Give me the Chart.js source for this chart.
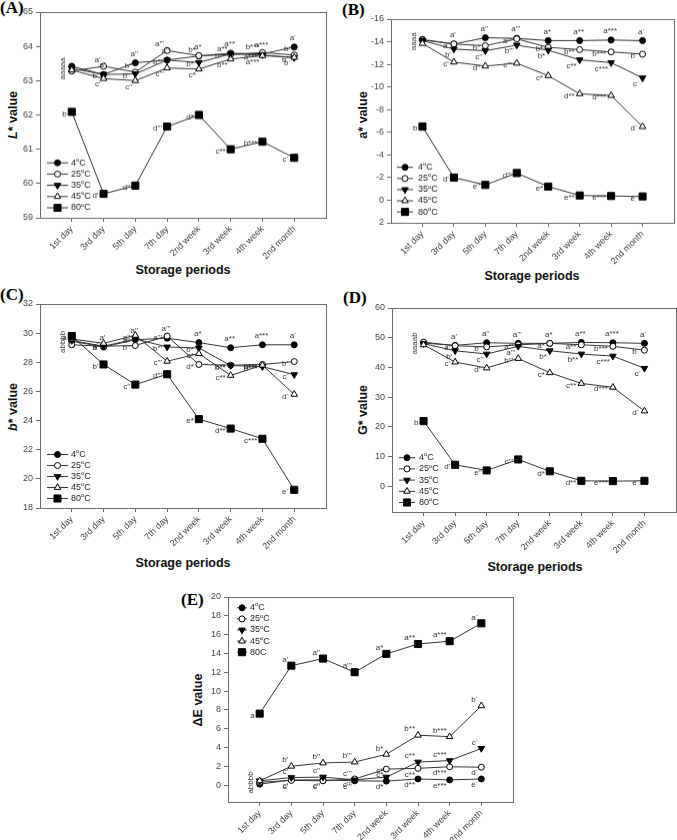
<!DOCTYPE html>
<html><head><meta charset="utf-8">
<script src="https://cdn.jsdelivr.net/npm/chart.js@4"></script>
<style>
body{margin:0;width:677px;height:840px;background:#fff;position:relative;overflow:hidden;font-family:"Liberation Sans",Arial,sans-serif}
.box{position:absolute}
.t{position:absolute;font-weight:bold;font-size:12.5px;white-space:nowrap;color:#111;font-family:"Liberation Sans",Arial,sans-serif}
.yt{transform:translate(-50%,-50%) rotate(-90deg)}
.xt{transform:translate(-50%,-50%)}
.pl{position:absolute;font-family:"Liberation Serif","Times New Roman",serif;font-weight:bold;font-size:17px;line-height:17px;color:#000}
</style></head><body>

<div class="pl" style="left:0px;top:-1px">(A)</div>
<div class="pl" style="left:342px;top:1px">(B)</div>
<div class="pl" style="left:0px;top:286px">(C)</div>
<div class="pl" style="left:343px;top:289px">(D)</div>
<div class="pl" style="left:181px;top:591px">(E)</div>

<div class="t yt" style="left:13px;top:115px"><i>L</i>* value</div>
<div class="t yt" style="left:363px;top:115px">a* value</div>
<div class="t yt" style="left:13px;top:407px"><i>b</i>* value</div>
<div class="t yt" style="left:363px;top:410px">G* value</div>
<div class="t yt" style="left:198px;top:700px">ΔE value</div>

<div class="t xt" style="left:183px;top:270px">Storage periods</div>
<div class="t xt" style="left:532px;top:276px">Storage periods</div>
<div class="t xt" style="left:183px;top:563px">Storage periods</div>
<div class="t xt" style="left:535px;top:567px">Storage periods</div>

<script>
// ---------- data ----------
const categories = ['1st day','3rd day','5th day','7th day','2nd week','3rd week','4th week','2nd month'];
const sigSuffix = ['', "'", "''", "'''", '*', '**', '***', '\u00B4'];
const seriesNames = ['4°C','25°C','35°C','45°C','80°C'];
const seriesNamesE = ['4°C','25°C','35°C','45°C','80C'];

// (A) L*
const A_4C  = [63.42, 63.18, 63.52, 63.60, 63.72, 63.80, 63.78, 63.98];
const A_25C = [63.28, 63.42, 63.25, 63.88, 63.73, 63.76, 63.82, 63.75];
const A_35C = [63.36, 63.18, 63.20, 63.60, 63.53, 63.78, 63.75, 63.67];
const A_45C = [63.31, 63.06, 63.00, 63.37, 63.34, 63.63, 63.73, 63.68];
const A_80C = [62.09, 59.70, 59.94, 61.66, 62.00, 61.00, 61.22, 60.75];
const A_sig = ['aaaaaaaa','aabababb','abbbbbab','accccbab','bddddcbc'];
const A_first = 'aaaaa';
const A_yticks = [59,60,61,62,63,64,65];

// (B) a*
const B_4C  = [-14.2, -13.8, -14.35, -14.3, -14.1, -14.1, -14.15, -14.1];
const B_25C = [-14.15, -13.8, -13.65, -14.25, -13.5, -13.3, -13.1, -12.9];
const B_35C = [-14.1, -13.35, -13.2, -13.7, -13.25, -12.4, -12.15, -10.8];
const B_45C = [-13.85, -12.2, -11.85, -12.1, -11.0, -9.4, -9.25, -6.5];
const B_80C = [-6.5, -2.0, -1.35, -2.4, -1.2, -0.42, -0.37, -0.33];
const B_sig = ['aaaaaaaa','aababbbb','abcbbccc','acdccddd','bdedeeee'];
const B_first = 'aaaa';
const B_yticks = [-16,-14,-12,-10,-8,-6,-4,-2,0,2];

// (C) b*
const C_4C  = [29.45, 29.05, 29.55, 29.65, 29.35, 29.0, 29.2, 29.2];
const C_25C = [29.2, 29.1, 29.15, 29.8, 27.85, 27.8, 27.85, 28.05];
const C_35C = [29.5, 29.1, 29.6, 29.05, 28.98, 27.78, 27.7, 27.15];
const C_45C = [29.6, 29.3, 29.85, 28.07, 28.6, 27.1, 27.8, 25.8];
const C_80C = [29.8, 27.85, 26.47, 27.18, 24.1, 23.45, 22.75, 19.25];
const C_sig = ['aaaaaaaa','babadbbb','bbabbbbc','baacccbd','abcdedce'];
const C_first = 'abbbb';
const C_yticks = [18,20,22,24,26,28,30,32];

// (D) G*
const D_4C  = [48.2, 47.4, 48.3, 48.1, 48.1, 48.4, 48.3, 48.1];
const D_25C = [48.5, 47.3, 46.9, 47.6, 48.1, 47.6, 47.1, 45.8];
const D_35C = [48.0, 45.6, 44.5, 47.1, 45.6, 44.5, 43.8, 39.7];
const D_45C = [47.6, 41.8, 39.8, 43.0, 38.2, 34.6, 33.3, 25.3];
const D_80C = [21.9, 7.2, 5.3, 9.0, 5.0, 1.8, 1.7, 1.8];
const D_sig = ['aaaaaaaa','aabaaabb','bbcabbcc','ccdbccdd','bdecddee'];
const D_first = 'aaaab';
const D_yticks = [0,10,20,30,40,50,60];

// (E) ΔE
const E_4C  = [0.1, 0.55, 0.55, 0.45, 0.42, 0.65, 0.55, 0.65];
const E_25C = [0.3, 0.5, 0.45, 0.65, 1.7, 1.78, 1.95, 1.9];
const E_35C = [0.45, 0.8, 0.85, 0.55, 0.85, 2.45, 2.6, 3.9];
const E_45C = [0.45, 2.0, 2.35, 2.45, 3.27, 5.3, 5.15, 8.43];
const E_80C = [7.6, 12.7, 13.45, 12.0, 13.95, 15.0, 15.3, 17.2];
const E_sig = ['ccccddee','ccccccdd','cccccccc','bbbbbbbb','aaaaaaaa'];
const E_first = 'abbbb';
const E_yticks = [0,2,4,6,8,10,12,14,16,18,20];

// ---------- styling ----------
const FONT = '"Liberation Sans", Arial, sans-serif';
const markers = [
  {style:'circle',   fill:'#000', r:3.0, rot:0},
  {style:'circle',   fill:'#fff', r:3.0, rot:0},
  {style:'triangle', fill:'#000', r:3.8, rot:180},
  {style:'triangle', fill:'#fff', r:3.8, rot:0},
  {style:'rect',     fill:'#000', r:5.0, rot:0}
];
const YW = 30, PL = 4, PT = 14, PR = 6, XH = 48, PB = 4;

function drawMarker(ctx, m, x, y){
  ctx.save();
  ctx.fillStyle = m.fill; ctx.strokeStyle = '#000'; ctx.lineWidth = 1;
  ctx.beginPath();
  if (m.style === 'circle') { ctx.arc(x, y, m.r, 0, Math.PI*2); }
  else if (m.style === 'rect') { const s = m.r*Math.SQRT1_2; ctx.rect(x-s, y-s, 2*s, 2*s); }
  else {
    const r = m.r, sgn = m.rot ? -1 : 1;
    ctx.moveTo(x, y - sgn*r);
    ctx.lineTo(x + r*0.866, y + sgn*r*0.5);
    ctx.lineTo(x - r*0.866, y + sgn*r*0.5);
    ctx.closePath();
  }
  ctx.fill(); ctx.stroke();
  ctx.restore();
}

function drawName(ctx, name, x, y){
  const parts = name.split('°');
  ctx.textAlign = 'left'; ctx.textBaseline = 'middle';
  ctx.font = '9px ' + FONT;
  ctx.fillText(parts[0], x, y);
  let w = ctx.measureText(parts[0]).width;
  if (parts.length > 1) {
    ctx.font = '6px ' + FONT;
    ctx.fillText('o', x + w, y - 3);
    w += ctx.measureText('o').width;
    ctx.font = '9px ' + FONT;
    ctx.fillText(parts[1], x + w, y);
  }
}

function makePanel(cfg){
  const a = cfg.area;
  const div = document.createElement('div');
  div.className = 'box';
  const left = a.L - YW - PL, top = a.T - PT;
  const w = (a.R - a.L) + YW + PL + PR, h = (a.B - a.T) + PT + XH + PB;
  div.style.left = left + 'px'; div.style.top = top + 'px';
  div.style.width = w + 'px'; div.style.height = h + 'px';
  const cv = document.createElement('canvas');
  cv.width = w; cv.height = h; cv.style.width = w + 'px'; cv.style.height = h + 'px';
  div.appendChild(cv); document.body.appendChild(div);

  const datasets = cfg.data.map((arr, i) => ({
    label: cfg.names[i],
    data: arr.map((v, j) => ({x: j, y: v})),
    borderColor: '#333', borderWidth: 1,
    pointStyle: markers[i].style, pointRotation: markers[i].rot,
    pointRadius: markers[i].r, pointBackgroundColor: markers[i].fill,
    pointBorderColor: '#000', pointBorderWidth: 1,
    showLine: true, tension: 0, order: 5 - i
  }));

  const deco = {
    id: 'deco_' + cfg.id,
    beforeDatasetsDraw(chart){
      const c = chart.ctx, ca = chart.chartArea;
      c.save(); c.strokeStyle = '#6a6a6a'; c.lineWidth = 1;
      c.strokeRect(Math.round(ca.left)+0.5, Math.round(ca.top)+0.5, Math.round(ca.right-ca.left), Math.round(ca.bottom-ca.top));
      c.restore();
    },
    afterDatasetsDraw(chart){
      const c = chart.ctx, ca = chart.chartArea;
      // significance letters
      c.save();
      c.font = '8px ' + FONT; c.fillStyle = '#333';
      cfg.data.forEach((arr, i) => {
        const meta = chart.getDatasetMeta(i);
        meta.data.forEach((pt, j) => {
          if (j === 0 && i < 4) return;
          const txt = cfg.sig[i][j] + sigSuffix[j];
          const p = (j === 0) ? 'left' : cfg.place[i];
          let x = pt.x, y = pt.y;
          if (p === 'above') { c.textAlign='center'; c.textBaseline='bottom'; x -= 1; y -= 5; }
          else if (p === 'left') { c.textAlign='right'; c.textBaseline='middle'; x -= 5; y += 2; }
          else if (p === 'aboveleft') { c.textAlign='right'; c.textBaseline='bottom'; x -= 3; y -= 2; }
          else if (p === 'belowleft') { c.textAlign='right'; c.textBaseline='top'; x -= 3; y += 2; }
          else { c.textAlign='center'; c.textBaseline='top'; y += 5; }
          c.fillText(txt, x, y);
        });
      });
      const ys = [0,1,2,3].map(i => chart.getDatasetMeta(i).data[0].y);
      const x0 = chart.getDatasetMeta(0).data[0].x - 9;
      const ym = (Math.min(...ys) + Math.max(...ys)) / 2;
      c.translate(x0, ym); c.rotate(-Math.PI/2);
      c.textAlign = 'center'; c.textBaseline = 'middle';
      c.fillText(cfg.first, 0, 0);
      c.restore();
      // legend
      const lg = cfg.legend;
      c.save(); c.fillStyle = '#222';
      cfg.names.forEach((nm, i) => {
        const y = lg.fromBottom ? ca.bottom - lg.dy - (4 - i) * lg.sp : ca.top + lg.dy + i * lg.sp;
        const x1 = ca.left + lg.x1, x2 = ca.left + lg.x2;
        c.strokeStyle = '#333'; c.lineWidth = 1;
        c.beginPath(); c.moveTo(x1, y + 0.5); c.lineTo(x2, y + 0.5); c.stroke();
        drawMarker(c, markers[i], (x1 + x2) / 2, y + 0.5);
        c.fillStyle = '#222';
        drawName(c, nm, ca.left + lg.tx, y + 0.5);
      });
      c.restore();
    }
  };

  new Chart(cv.getContext('2d'), {
    type: 'scatter',
    data: { datasets },
    options: {
      responsive: false, animation: false, devicePixelRatio: 1,
      layout: { padding: { top: PT, left: PL, right: PR, bottom: PB } },
      plugins: { legend: { display: false }, tooltip: { enabled: false } },
      scales: {
        x: {
          type: 'linear', min: -1, max: 8,
          afterFit(s){ s.height = XH; },
          afterBuildTicks(s){ s.ticks = categories.map((c, j) => ({ value: j })); },
          ticks: { autoSkip: false, maxRotation: 45, minRotation: 45, padding: 2,
                   font: { size: 9, family: FONT }, color: '#444',
                   callback: v => categories[v] || '' },
          grid: { drawOnChartArea: false, tickLength: 4, color: '#666' },
          border: { display: false }
        },
        y: {
          type: 'linear', min: cfg.y.min, max: cfg.y.max, reverse: !!cfg.y.reverse,
          afterFit(s){ s.width = YW; },
          afterBuildTicks(s){ s.ticks = cfg.yticks.map(v => ({ value: v })); },
          ticks: { font: { size: 9, family: FONT }, color: '#444', padding: 3 },
          grid: { drawOnChartArea: false, tickLength: 4, color: '#666' },
          border: { display: false }
        }
      }
    },
    plugins: [deco]
  });
}

makePanel({ id:'A', area:{L:40, T:12.3, R:326, B:217.7}, y:{min:59, max:65}, yticks:A_yticks,
  data:[A_4C,A_25C,A_35C,A_45C,A_80C], sig:A_sig, first:A_first, names:seriesNames,
  place:['above','aboveleft','left','belowleft','left'],
  legend:{fromBottom:true, dy:10.5, sp:11.2, x1:7, x2:28, tx:31} });

makePanel({ id:'B', area:{L:391, T:19, R:674, B:222.7}, y:{min:-16, max:2, reverse:true}, yticks:B_yticks,
  data:[B_4C,B_25C,B_35C,B_45C,B_80C], sig:B_sig, first:B_first, names:seriesNames,
  place:['above','left','belowleft','left','left'],
  legend:{fromBottom:true, dy:11.4, sp:11.1, x1:6, x2:22, tx:27} });

makePanel({ id:'C', area:{L:40, T:304, R:326, B:508.3}, y:{min:18, max:32}, yticks:C_yticks,
  data:[C_4C,C_25C,C_35C,C_45C,C_80C], sig:C_sig, first:C_first, names:seriesNames,
  place:['above','left','left','left','left'],
  legend:{fromBottom:true, dy:10, sp:11, x1:7, x2:28, tx:31} });

makePanel({ id:'D', area:{L:392, T:307.7, R:676, B:512}, y:{min:-8.7, max:60}, yticks:D_yticks,
  data:[D_4C,D_25C,D_35C,D_45C,D_80C], sig:D_sig, first:D_first, names:seriesNames,
  place:['above','left','belowleft','left','left'],
  legend:{fromBottom:true, dy:10, sp:11.2, x1:7, x2:23, tx:27} });

makePanel({ id:'E', area:{L:228, T:597, R:513, B:802}, y:{min:-1.8, max:20}, yticks:E_yticks,
  data:[E_4C,E_25C,E_35C,E_45C,E_80C], sig:E_sig, first:E_first, names:seriesNamesE,
  place:['belowleft','belowleft','aboveleft','aboveleft','aboveleft'],
  legend:{fromBottom:false, dy:10.3, sp:11.1, x1:9, x2:19, tx:22} });
</script>
</body></html>
